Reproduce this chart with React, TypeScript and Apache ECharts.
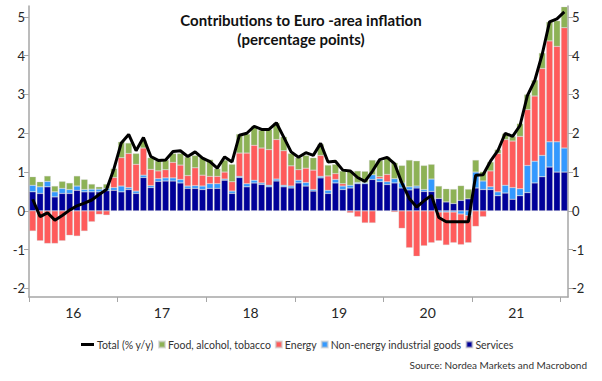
import React, { useEffect, useRef } from "react";
import * as echarts from "echarts";

// Monthly categories Jan 2016 .. Jan 2022
const years = [2016, 2017, 2018, 2019, 2020, 2021];
const monthNames = ["Jan", "Feb", "Mar", "Apr", "May", "Jun", "Jul", "Aug", "Sep", "Oct", "Nov", "Dec"];
const months: string[] = [];
years.forEach((y) => monthNames.forEach((m) => months.push(`${m} ${y}`)));
months.push("Jan 2022");

const yearLabels = ["16", "17", "18", "19", "20", "21"];
const yTicks = [-2, -1, 0, 1, 2, 3, 4, 5];

const services = [
  0.49, 0.45, 0.62, 0.36, 0.45, 0.45, 0.53, 0.49, 0.49, 0.49, 0.52, 0.53,
  0.49, 0.55, 0.45, 0.86, 0.6, 0.76, 0.77, 0.77, 0.72, 0.58, 0.58, 0.55,
  0.58, 0.58, 0.79, 0.45, 0.86, 0.62, 0.72, 0.68, 0.62, 0.77, 0.62, 0.59,
  0.72, 0.64, 0.51, 0.85, 0.45, 0.72, 0.55, 0.59, 0.7, 0.7, 0.81, 0.75,
  0.68, 0.72, 0.59, 0.54, 0.59, 0.5, 0.5, 0.32, 0.23, 0.19, 0.27, 0.31,
  0.59, 0.55, 0.55, 0.39, 0.46, 0.3, 0.39, 0.47, 0.72, 0.88, 1.13, 1.0,
  1.0,
];
const neig = [
  0.17, 0.17, 0.14, 0.13, 0.13, 0.1, 0.11, 0.06, 0.07, 0.07, 0.06, 0.07,
  0.15, 0.05, 0.06, 0.06, 0.05, 0.07, 0.08, 0.08, 0.09, 0.06, 0.07, 0.09,
  0.12, 0.12, 0.03, 0.06, 0.03, 0.08, 0.07, 0.04, 0.04, 0.05, 0.04, 0.05,
  0.07, 0.09, 0.04, 0.04, 0.08, 0.09, 0.09, 0.07, 0.03, 0.03, 0.12, 0.08,
  0.07, 0.11, 0.13, 0.08, 0.05, 0.05, 0.32, -0.03, -0.03, -0.03, -0.08, -0.12,
  0.41, 0.22, 0.07, 0.1, 0.2, 0.3, 0.18, 0.7, 0.56, 0.55, 0.65, 0.78,
  0.62,
];
const energy = [
  -0.52, -0.77, -0.84, -0.84, -0.77, -0.63, -0.65, -0.52, -0.28, -0.09, -0.11, 0.26,
  0.73, 0.88, 0.69, 0.7, 0.42, 0.2, 0.21, 0.4, 0.37, 0.27, 0.46, 0.28,
  0.19, 0.19, 0.18, 0.24, 0.6, 0.79, 0.9, 0.9, 0.92, 1.02, 0.89, 0.52,
  0.27, 0.37, 0.5, 0.54, 0.37, 0.15, 0.06, -0.05, -0.15, -0.31, -0.31, 0.05,
  0.19, -0.03, -0.45, -0.95, -1.17, -0.9, -0.82, -0.74, -0.85, -0.79, -0.79, -0.7,
  -0.4, -0.15, 0.41, 0.99, 1.18, 1.2, 1.35, 1.44, 1.68, 2.24, 2.6, 2.46,
  3.1,
];
const food = [
  0.22, 0.13, 0.14, 0.15, 0.18, 0.17, 0.26, 0.26, 0.13, 0.06, 0.11, 0.23,
  0.41, 0.27, 0.28, 0.2, 0.3, 0.26, 0.25, 0.23, 0.3, 0.48, 0.32, 0.45,
  0.43, 0.2, 0.31, 0.45, 0.49, 0.49, 0.49, 0.46, 0.52, 0.43, 0.36, 0.32,
  0.31, 0.33, 0.32, 0.29, 0.28, 0.24, 0.33, 0.37, 0.3, 0.29, 0.38, 0.42,
  0.45, 0.41, 0.45, 0.69, 0.65, 0.62, 0.38, 0.32, 0.34, 0.37, 0.38, 0.25,
  0.31, 0.24, 0.23, 0.1, 0.15, 0.12, 0.33, 0.39, 0.41, 0.4, 0.49, 0.66,
  0.54,
];
const total = [
  0.3, -0.15, -0.05, -0.24, -0.12, 0.02, 0.13, 0.2, 0.28, 0.42, 0.55, 1.08,
  1.75, 1.97, 1.55, 1.89, 1.4, 1.3, 1.31, 1.53, 1.55, 1.4, 1.52, 1.36,
  1.27, 1.1, 1.39, 1.26, 1.95, 2.0, 2.18, 2.1, 2.1, 2.27, 1.9, 1.52,
  1.38, 1.5, 1.43, 1.74, 1.26, 1.28, 1.05, 1.03, 0.86, 0.76, 1.02, 1.32,
  1.38, 1.22, 0.72, 0.32, 0.1, 0.26, 0.4, -0.17, -0.28, -0.28, -0.28, -0.28,
  0.92, 0.93, 1.28, 1.55, 2.0, 1.92, 2.2, 2.97, 3.36, 4.03, 4.87, 4.95,
  5.13,
];

const FONT = "Lato, 'Open Sans', sans-serif";
const AXIS_GRAY = "#a6a6a6";
const TEXT = "#262626";

export default function App() {
  const ref = useRef<HTMLDivElement>(null);
  useEffect(() => {
    const chart = echarts.init(ref.current!, null, { renderer: "svg" });
    const barCommon = {
      type: "bar",
      stack: "total",
      xAxisIndex: 0,
      yAxisIndex: 0,
      barCategoryGap: "12%",
      itemStyle: { borderColor: "rgba(200,200,200,0.6)", borderWidth: 0.5 },
    };
    const yAxisCommon = {
      type: "value",
      min: -2.22,
      max: 5.28,
      axisLine: { show: true, lineStyle: { color: AXIS_GRAY, width: 1.5 } },
      axisTick: { show: true, length: 5, customValues: yTicks, lineStyle: { color: AXIS_GRAY } },
      axisLabel: { customValues: yTicks, margin: 4, fontSize: 13, color: TEXT, fontFamily: FONT },
      splitLine: { show: false },
    };
    const legendText = { fontSize: 10.5, fontFamily: FONT, color: "#333", padding: [0, 0, 0, -2] };
    chart.setOption({
      animation: false,
      backgroundColor: "#ffffff",
      title: [
        {
          text: "Contributions to Euro -area inflation\n(percentage points)",
          left: "center",
          top: 5,
          textStyle: { fontSize: 15, fontWeight: "bold", fontFamily: FONT, color: "#111", lineHeight: 19, align: "center" },
        },
        {
          text: "Source: Nordea Markets and Macrobond",
          right: 10,
          top: 355,
          textStyle: { fontSize: 10, fontWeight: "normal", fontFamily: FONT, color: "#333" },
        },
      ],
      legend: [
        {
          data: ["Total (% y/y)"],
          left: 76,
          top: 334,
          icon: "rect",
          itemWidth: 13,
          itemHeight: 3,
          textStyle: legendText,
        },
        {
          data: ["Food, alcohol, tobacco", "Energy", "Non-energy industrial goods", "Services"],
          left: 153,
          top: 334,
          icon: "rect",
          itemWidth: 6,
          itemHeight: 6,
          itemGap: 4,
          textStyle: legendText,
        },
      ],
      grid: { left: 29, right: 34, top: 6, bottom: 84, containLabel: false },
      xAxis: [
        { type: "category", data: months, show: false, boundaryGap: true },
        {
          type: "value",
          min: 0,
          max: months.length,
          position: "bottom",
          axisLine: { show: true, onZero: false, lineStyle: { color: AXIS_GRAY, width: 1.5 } },
          axisTick: { show: true, length: 5, customValues: [0, 12, 24, 36, 48, 60, 72], lineStyle: { color: AXIS_GRAY } },
          axisLabel: {
            customValues: [6, 18, 30, 42, 54, 66],
            formatter: (v: number) => yearLabels[Math.round((v - 6) / 12)] ?? "",
            margin: 8,
            fontSize: 14,
            color: TEXT,
            fontFamily: FONT,
          },
          splitLine: { show: false },
        },
      ],
      yAxis: [
        { ...yAxisCommon, position: "left" },
        { ...yAxisCommon, position: "right" },
      ],
      series: [
        { ...barCommon, name: "Services", data: services, color: "#000099" },
        { ...barCommon, name: "Non-energy industrial goods", data: neig, color: "#3399FF" },
        { ...barCommon, name: "Energy", data: energy, color: "#FF5B5B" },
        { ...barCommon, name: "Food, alcohol, tobacco", data: food, color: "#8DB255" },
        {
          type: "line",
          name: "Total (% y/y)",
          data: total,
          xAxisIndex: 0,
          yAxisIndex: 0,
          color: "#000000",
          symbol: "none",
          lineStyle: { color: "#000000", width: 3 },
          z: 10,
        },
      ],
    });
    return () => chart.dispose();
  }, []);
  return (
    <div
      ref={ref}
      style={{ position: "absolute", left: 0, top: 0, width: 602, height: 381, background: "#fff" }}
    />
  );
}
